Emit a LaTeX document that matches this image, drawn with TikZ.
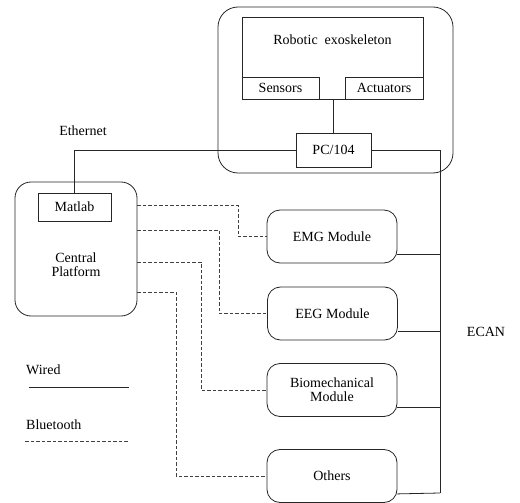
\documentclass[tikz,border=0pt]{standalone}
\usepackage{fontspec}
\setmainfont{Liberation Serif}
\usepackage{tikz}

\tikzset{
  box/.style={draw=black!85, line width=0.8pt, inner sep=0pt},
  rbox/.style={box, rounded corners=13pt},
  wire/.style={draw=black!85, line width=0.8pt},
  bt/.style={draw=black!75, line width=0.8pt, dash pattern=on 3.5pt off 2pt},
  lbl/.style={font=\fontsize{14}{16}\selectfont, align=center, inner sep=0pt}
}

\begin{document}
\begin{tikzpicture}[x=1pt, y=-1pt, every node/.style={lbl}]
  \useasboundingbox (0,0) rectangle (520,503);

  % exoskeleton part
  \node[rbox, rounded corners=20pt, minimum width=235pt, minimum height=166pt] (robot) at (335.5,90) {};
  \node[box, minimum width=181pt, minimum height=82pt] (exo) at (332.5,58) {};
  \node (exotxt) at (332.5,40) {Robotic\ \ exoskeleton};
  \node[box, minimum width=77pt, minimum height=22pt] (sens) at (280.5,88) {Sensors};
  \node[box, minimum width=78pt, minimum height=22pt] (act) at (384,88) {Actuators};
  \node[box, minimum width=75pt, minimum height=34pt] (pc) at (333.5,150) {PC/104};

  % central platform
  \node[rbox, rounded corners=16pt, minimum width=122pt, minimum height=134pt] (central) at (76,249) {};
  \node (centtxt) at (76,265) {Central\\[-2pt]Platform};
  \node[box, minimum width=73pt, minimum height=28pt] (matlab) at (74.5,207) {Matlab};

  % modules
  \node[rbox, minimum width=130pt, minimum height=53pt] (emg) at (332,236.5) {EMG Module};
  \node[rbox, minimum width=130pt, minimum height=53pt] (eeg) at (332.5,313.5) {EEG Module};
  \node[rbox, minimum width=130pt, minimum height=53pt] (bio) at (332,390) {Biomechanical\\[-2pt]Module};
  \node[rbox, minimum width=130pt, minimum height=53pt] (others) at (332,476) {Others};

  % labels
  \node (eth) at (83,131) {Ethernet};
  \node (ecan) at (486,332) {ECAN};
  \node[anchor=west] (wired) at (26,370) {Wired};
  \node[anchor=west] (bluet) at (26,425) {Bluetooth};

  \coordinate (bustop) at (440,150);
  \coordinate (busbot) at (440,493);

  % wired links
  \draw[wire] (pc.north) -- (pc.north |- exo.south);
  \draw[wire] (pc.west) -| (matlab.north);
  \draw[wire] (pc.east) -- (bustop) -- (busbot);
  \draw[wire] ([yshift=9pt]emg.south east) -- ([yshift=9pt]emg.south east -| bustop);
  \draw[wire] ([yshift=9pt]eeg.south east) -- ([yshift=9pt]eeg.south east -| bustop);
  \draw[wire] ([yshift=10pt]bio.south east) -- ([yshift=10pt]bio.south east -| bustop);
  \draw[wire] ([yshift=9pt]others.south east) -- (busbot);

  % bluetooth links
  \draw[bt] (central.east |- {(0,205)}) -- (238,205) |- (emg.west);
  \draw[bt] (central.east |- {(0,230)}) -- (219,230) |- (eeg.west);
  \draw[bt] (central.east |- {(0,262)}) -- (201,262) |- (bio.west);
  \draw[bt] (central.east |- {(0,292)}) -- (176,292) |- (others.west);

  % legend
  \coordinate (w1) at (29,387);
  \coordinate (w2) at (129,387);
  \coordinate (b1) at (25,441);
  \coordinate (b2) at (129,441);
  \draw[wire] (w1) -- (w2);
  \draw[bt] (b1) -- (b2);
\end{tikzpicture}
\end{document}
